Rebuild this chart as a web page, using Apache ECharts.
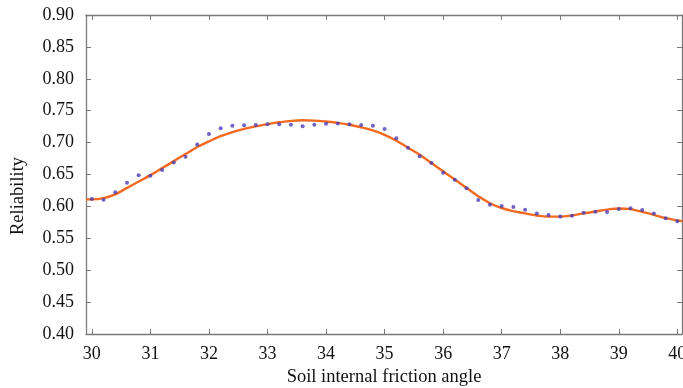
<!DOCTYPE html>
<html>
<head>
<meta charset="utf-8">
<script src="https://cdn.jsdelivr.net/npm/echarts@6/dist/echarts.min.js"></script>
<style>
  html, body { margin: 0; padding: 0; background: #fff; }
  #chart { width: 683px; height: 388px; }
</style>
</head>
<body>
<div id="chart"></div>
<script>
// measured points (blue dots), step 0.2 deg
var dotAngles = [];
for (var i = 0; i <= 50; i++) dotAngles.push(+(30 + i * 0.2).toFixed(1));
var dotReliability = [
  0.6116, 0.6105, 0.622, 0.637, 0.649, 0.648, 0.657, 0.669, 0.678, 0.697,
  0.7135, 0.7224, 0.7265, 0.727, 0.7276, 0.7287, 0.7287, 0.728, 0.7255, 0.728,
  0.7296, 0.730, 0.7287, 0.7276, 0.7265, 0.7213, 0.7067, 0.692, 0.6785, 0.668,
  0.6527, 0.6417, 0.6284, 0.610, 0.6025, 0.6008, 0.599, 0.5946, 0.589, 0.5867,
  0.5842, 0.5855, 0.590, 0.5917, 0.5911, 0.5958, 0.5972, 0.5944, 0.5888, 0.5813,
  0.5768
];

// fitted curve (orange)
var curveAngles = [29.9, 30.0, 30.2, 30.4, 30.6, 30.8, 31.0, 31.2, 31.4, 31.6, 31.8,
  32.0, 32.2, 32.4, 32.6, 32.8, 33.0, 33.2, 33.4, 33.6, 33.8, 34.0, 34.2, 34.4,
  34.6, 34.8, 35.0, 35.2, 35.4, 35.6, 35.8, 36.0, 36.2, 36.4, 36.6, 36.8, 37.0,
  37.2, 37.4, 37.6, 37.8, 38.0, 38.2, 38.4, 38.6, 38.8, 39.0, 39.2, 39.4, 39.6,
  39.8, 40.0, 40.08];
var curveReliability = [0.611, 0.611, 0.613, 0.619, 0.629, 0.639, 0.649, 0.660, 0.671,
  0.682, 0.693, 0.702, 0.710, 0.7165, 0.7215, 0.7255, 0.729, 0.7318, 0.734, 0.735,
  0.7345, 0.733, 0.731, 0.728, 0.724, 0.719, 0.712, 0.703, 0.692, 0.681, 0.668,
  0.655, 0.642, 0.629, 0.616, 0.605, 0.5975, 0.5925, 0.589, 0.5858, 0.584, 0.584,
  0.586, 0.589, 0.592, 0.595, 0.5968, 0.5958, 0.5915, 0.5868, 0.5815, 0.578, 0.577];

var xTicks = [30, 31, 32, 33, 34, 35, 36, 37, 38, 39, 40];

var fontFam = '"Liberation Serif", "Times New Roman", serif';
var axisColor = '#7a7a7a';

var chart = echarts.init(document.getElementById('chart'));

function zip(a, b) {
  var out = [];
  for (var k = 0; k < a.length; k++) out.push([a[k], b[k]]);
  return out;
}

var option = {
  animation: false,
  backgroundColor: '#fff',
  grid: { left: 86, right: 1, top: 15, bottom: 54, outerBoundsMode: 'none', containLabel: false },
  // y title sits a bit below the plot centre in the original
  graphic: [{
    type: 'text',
    x: 18,
    y: 196,
    rotation: Math.PI / 2,
    style: {
      text: 'Reliability',
      fontFamily: fontFam,
      fontSize: 18.5,
      fill: '#111',
      align: 'center',
      verticalAlign: 'middle'
    }
  }],
  xAxis: [{
    type: 'value',
    min: 29.9,
    max: 40.08,
    name: 'Soil internal friction angle',
    nameLocation: 'middle',
    nameGap: 34,
    nameTextStyle: { fontFamily: fontFam, fontSize: 18.5, color: '#111' },
    axisLine: { show: true, lineStyle: { color: axisColor, width: 1.3 } },
    axisTick: { show: true, inside: true, length: 5, customValues: xTicks, lineStyle: { color: axisColor } },
    axisLabel: { customValues: xTicks, fontFamily: fontFam, fontSize: 18, color: '#111', margin: 11 },
    splitLine: { show: false }
  }, {
    type: 'value',
    position: 'top',
    min: 29.9,
    max: 40.08,
    axisLine: { show: true, lineStyle: { color: axisColor, width: 1.3 } },
    axisTick: { show: true, inside: true, length: 5, customValues: xTicks, lineStyle: { color: axisColor } },
    axisLabel: { show: false },
    splitLine: { show: false }
  }],
  yAxis: [{
    type: 'value',
    min: 0.4,
    max: 0.9,
    interval: 0.05,
    axisLine: { show: true, lineStyle: { color: axisColor, width: 1.3 } },
    axisTick: { show: true, inside: true, length: 5, lineStyle: { color: axisColor } },
    axisLabel: {
      fontFamily: fontFam, fontSize: 18, color: '#111', margin: 12,
      formatter: function (v) { return v.toFixed(2); }
    },
    splitLine: { show: false }
  }, {
    type: 'value',
    position: 'right',
    min: 0.4,
    max: 0.9,
    interval: 0.05,
    axisLine: { show: true, lineStyle: { color: axisColor, width: 1.3 } },
    axisTick: { show: true, inside: true, length: 5, lineStyle: { color: axisColor } },
    axisLabel: { show: false },
    splitLine: { show: false }
  }],
  series: [{
    name: 'fit',
    type: 'line',
    data: zip(curveAngles, curveReliability),
    smooth: 0.4,
    showSymbol: false,
    lineStyle: { color: '#f26a21', width: 2.4 },
    z: 2
  }, {
    name: 'data',
    type: 'scatter',
    data: zip(dotAngles, dotReliability),
    symbol: 'circle',
    symbolSize: 4,
    itemStyle: { color: '#4b3cb4' },
    z: 3
  }]
};

chart.setOption(option);
</script>
</body>
</html>
